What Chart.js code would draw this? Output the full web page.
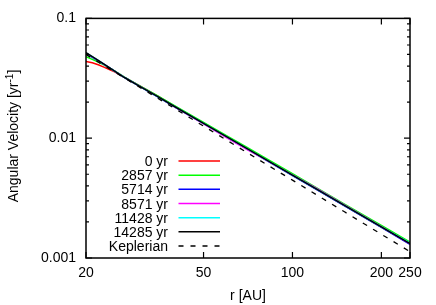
<!DOCTYPE html>
<html>
<head>
<meta charset="utf-8">
<script src="https://cdn.jsdelivr.net/npm/chart.js@4/dist/chart.umd.min.js"></script>
<style>
html,body{margin:0;padding:0;background:#fff;}
canvas{display:block;}
</style>
</head>
<body>
<canvas id="c" width="436" height="305"></canvas>
<script>
// ---- data ----
const radius = [20, 21, 22, 23, 24, 25, 27, 30, 35, 40, 50, 60, 70, 80, 100, 120, 150, 200, 250];
const omega0     = [0.0437, 0.0426, 0.0410, 0.0392, 0.0374, 0.0358, 0.0322, 0.0279, 0.0224, 0.01845, 0.01335, 0.01028, 0.00822, 0.00678, 0.00491, 0.00378, 0.00274, 0.00181, 0.00131];
const omega2857  = [0.0478, 0.0455, 0.0432, 0.0409, 0.0386, 0.0364, 0.0323, 0.0279, 0.0225, 0.0186, 0.01355, 0.01046, 0.00841, 0.00695, 0.00505, 0.00389, 0.00282, 0.00187, 0.00136];
const omega5714  = [0.0508, 0.0474, 0.0442, 0.0413, 0.0387, 0.0363, 0.0321, 0.0276, 0.0221, 0.0182, 0.01322, 0.01017, 0.00815, 0.00673, 0.00488, 0.00376, 0.00272, 0.00180, 0.00130];
const omega8571  = [0.0512, 0.0478, 0.0445, 0.0415, 0.0388, 0.0363, 0.0321, 0.0276, 0.0221, 0.0182, 0.01318, 0.01005, 0.00808, 0.00675, 0.00495, 0.00384, 0.00278, 0.00183, 0.00132];
const omega11428 = [0.0516, 0.0480, 0.0446, 0.0415, 0.0388, 0.0363, 0.0321, 0.0276, 0.0221, 0.0183, 0.01328, 0.01024, 0.00821, 0.00678, 0.00492, 0.00379, 0.00275, 0.00182, 0.00133];
const omega14285 = [0.0519, 0.0480, 0.0446, 0.0415, 0.0388, 0.0363, 0.0321, 0.0276, 0.0222, 0.0183, 0.01329, 0.01024, 0.00821, 0.00678, 0.00492, 0.00379, 0.00275, 0.00182, 0.00132];
const keplerRadius = [20, 30, 50, 100, 150, 200, 250];
const keplerOmega  = [0.0499, 0.02716, 0.01262, 0.004463, 0.00243, 0.001578, 0.001129];

const seriesLabels = ['0 yr', '2857 yr', '5714 yr', '8571 yr', '11428 yr', '14285 yr', 'Keplerian'];
const seriesColors = ['#ff0000', '#00ff00', '#0000ff', '#ff00ff', '#00ffff', '#000000', '#000000'];

const xTickValues = [20, 50, 100, 200, 250];
const xTickLabels = ['20', '50', '100', '200', '250'];
const yMajorValues = [0.001, 0.01, 0.1];
const yTickLabels = ['0.001', '0.01', '0.1'];
const yMinorMultipliers = [2, 3, 4, 5, 6, 7, 8, 9];

const xTitle = 'r [AU]';
const yTitleMain = 'Angular Velocity [yr';
const yTitleSup = '-1';
const yTitleEnd = ']';

// ---- helpers ----
const FONT = '"Liberation Sans", Arial, Helvetica, sans-serif';
const toPoints = (xs, ys) => xs.map((x, i) => ({x: x, y: ys[i]}));
const seriesValues = [omega0, omega2857, omega5714, omega8571, omega11428, omega14285];

const yMinorValues = [];
yMajorValues.slice(0, -1).forEach(d => yMinorMultipliers.forEach(m => yMinorValues.push(+(d * m).toPrecision(6))));
const yAllTicks = yMajorValues.concat(yMinorValues).sort((a, b) => a - b);

const datasets = seriesValues.map((vals, i) => ({
  label: seriesLabels[i],
  data: toPoints(radius, vals),
  borderColor: seriesColors[i],
  borderWidth: 1.5,
  pointRadius: 0,
  fill: false,
  tension: 0,
  order: 10 - i
}));
datasets.push({
  label: seriesLabels[6],
  data: toPoints(keplerRadius, keplerOmega),
  borderColor: seriesColors[6],
  borderWidth: 1.3,
  borderDash: [5, 7],
  pointRadius: 0,
  fill: false,
  tension: 0,
  order: 1
});

const frameTicksPlugin = {
  id: 'frameTicks',
  afterDatasetsDraw(chart) {
    const ctx = chart.ctx, a = chart.chartArea;
    const xs = chart.scales.x, ys = chart.scales.y;
    ctx.save();
    ctx.strokeStyle = '#000';
    ctx.lineWidth = 1.2;
    ctx.beginPath();
    xTickValues.forEach(v => {
      const px = xs.getPixelForValue(v);
      ctx.moveTo(px, a.bottom); ctx.lineTo(px, a.bottom - 6);
      ctx.moveTo(px, a.top); ctx.lineTo(px, a.top + 6);
    });
    yAllTicks.forEach(v => {
      const py = ys.getPixelForValue(v);
      const len = yMajorValues.some(m => Math.abs(m - v) < 1e-9) ? 6 : 3;
      ctx.moveTo(a.left, py); ctx.lineTo(a.left + len, py);
      ctx.moveTo(a.right, py); ctx.lineTo(a.right - len, py);
    });
    ctx.stroke();
    ctx.lineWidth = 1.5;
    ctx.strokeRect(a.left, a.top, a.right - a.left, a.bottom - a.top);
    ctx.restore();
  }
};

const textPlugin = {
  id: 'texts',
  afterDraw(chart) {
    const ctx = chart.ctx;
    ctx.save();
    ctx.fillStyle = '#000';
    // legend
    ctx.font = '14px ' + FONT;
    ctx.textAlign = 'right';
    ctx.textBaseline = 'alphabetic';
    chart.data.datasets.forEach((ds, i) => {
      const yc = 161 + i * 14.17;
      ctx.fillText(ds.label, 168, yc + 5);
      ctx.beginPath();
      ctx.strokeStyle = ds.borderColor;
      ctx.lineWidth = 1.5;
      ctx.setLineDash(ds.borderDash || []);
      ctx.moveTo(178.5, yc);
      ctx.lineTo(220, yc);
      ctx.stroke();
      ctx.setLineDash([]);
    });
    // x title
    ctx.textAlign = 'center';
    ctx.font = '14px ' + FONT;
    ctx.fillText(xTitle, 248, 300);
    // y title with superscript
    ctx.translate(18, 136);
    ctx.rotate(-Math.PI / 2);
    ctx.textAlign = 'left';
    ctx.font = '14px ' + FONT;
    const w1 = ctx.measureText(yTitleMain).width;
    const w3 = ctx.measureText(yTitleEnd).width;
    ctx.font = '10px ' + FONT;
    const w2 = ctx.measureText(yTitleSup).width;
    let u = -(w1 + w2 + w3) / 2;
    ctx.font = '14px ' + FONT;
    ctx.fillText(yTitleMain, u, 0);
    u += w1;
    ctx.font = '10px ' + FONT;
    ctx.fillText(yTitleSup, u, -5);
    u += w2;
    ctx.font = '14px ' + FONT;
    ctx.fillText(yTitleEnd, u, 0);
    ctx.restore();
  }
};

new Chart(document.getElementById('c'), {
  type: 'line',
  data: { datasets: datasets },
  options: {
    responsive: false,
    animation: false,
    devicePixelRatio: 1,
    layout: { padding: { left: 0, right: 26, top: 16, bottom: 0 } },
    plugins: { legend: { display: false }, tooltip: { enabled: false } },
    scales: {
      x: {
        type: 'logarithmic',
        min: 20, max: 250,
        afterBuildTicks: s => { s.ticks = xTickValues.map(v => ({value: v})); },
        afterFit: s => { s.height = 47; },
        grid: { display: false, drawTicks: false },
        border: { display: false },
        ticks: {
          autoSkip: false, maxRotation: 0, minRotation: 0, padding: 7,
          color: '#000', font: { family: FONT, size: 14 },
          callback: (v) => { const i = xTickValues.findIndex(t => Math.abs(t - v) < 1e-6); return i >= 0 ? xTickLabels[i] : ''; }
        }
      },
      y: {
        type: 'logarithmic',
        min: 0.001, max: 0.1,
        afterBuildTicks: s => { s.ticks = yAllTicks.map(v => ({value: v})); },
        afterFit: s => { s.width = 86; },
        grid: { display: false, drawTicks: false },
        border: { display: false },
        ticks: {
          autoSkip: false, padding: 10,
          color: '#000', font: { family: FONT, size: 14 },
          callback: (v) => { const i = yMajorValues.findIndex(t => Math.abs(t - v) < 1e-9); return i >= 0 ? yTickLabels[i] : ''; }
        }
      }
    }
  },
  plugins: [frameTicksPlugin, textPlugin]
});
</script>
</body>
</html>
